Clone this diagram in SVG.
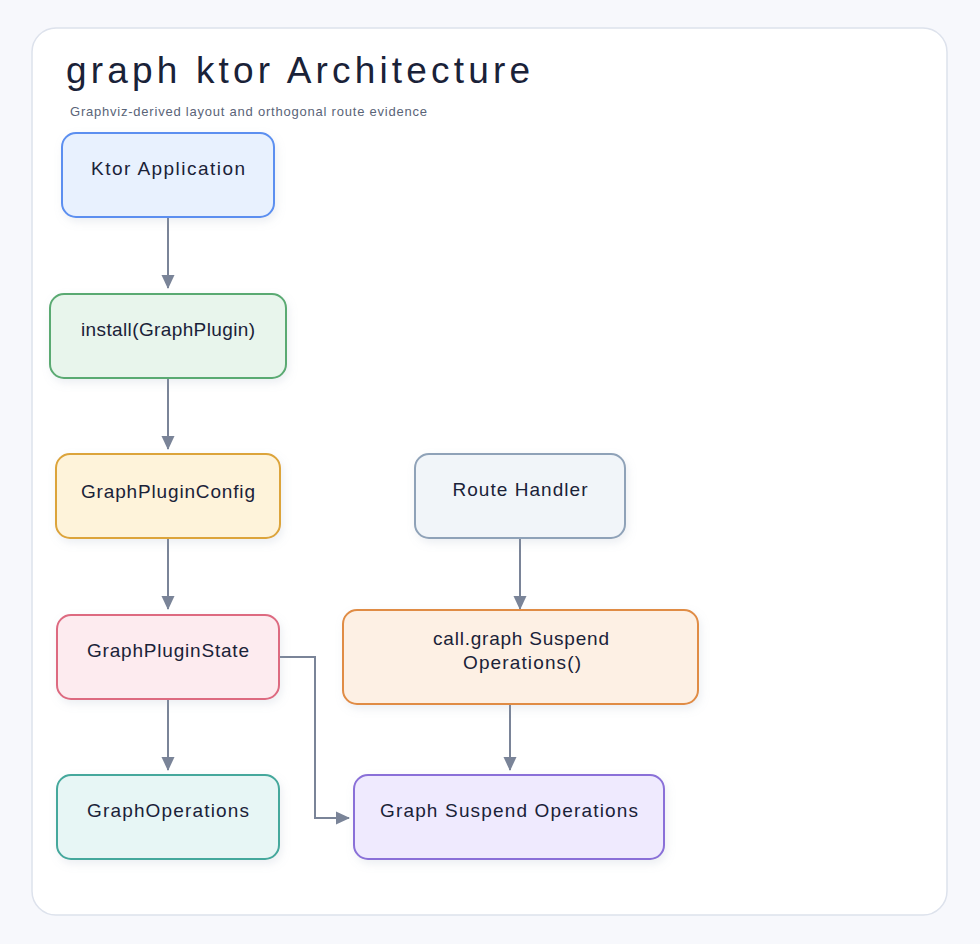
<svg xmlns="http://www.w3.org/2000/svg" width="980" height="944" viewBox="0 0 980 944">
<defs>
<marker id="arr" markerUnits="userSpaceOnUse" markerWidth="14" markerHeight="14" viewBox="0 0 14 14" refX="13" refY="7" orient="auto">
<path d="M0,0.5 L14,7 L0,13.5 z" fill="#7a8498"/>
</marker>
<filter id="sh" x="-10%" y="-10%" width="130%" height="140%">
<feDropShadow dx="2" dy="4" stdDeviation="4" flood-color="#94a3b8" flood-opacity="0.18"/>
</filter>
</defs>
<style>
.nb{stroke-width:2;filter:url(#sh)}
.lbl{font-family:"Liberation Sans","DejaVu Sans",sans-serif;font-size:19px;fill:#1a2238;text-anchor:middle}
.e{fill:none;stroke:#7a8498;stroke-width:2;marker-end:url(#arr)}
</style>
<rect width="980" height="944" fill="#f7f8fc"/>
<rect x="32" y="28" width="915" height="887" rx="24" fill="#ffffff" stroke="#dde2ec" stroke-width="1.5"/>
<text x="66" y="83" font-family="'Liberation Sans','DejaVu Sans',sans-serif" font-size="37" fill="#1a2238" textLength="464" lengthAdjust="spacing">graph ktor Architecture</text>
<text x="70" y="116" font-family="'Liberation Sans','DejaVu Sans',sans-serif" font-size="13" fill="#5a6478" textLength="357" lengthAdjust="spacing">Graphviz-derived layout and orthogonal route evidence</text>
<g id="connectors">
<path class="e" d="M168,217 L168,288"/>
<path class="e" d="M168,378 L168,449"/>
<path class="e" d="M168,538 L168,609"/>
<path class="e" d="M520,538 L520,609"/>
<path class="e" d="M168,699 L168,770"/>
<path class="e" d="M510,704 L510,770"/>
<path class="e" d="M279,657 L315,657 L315,818 L349,818"/>
</g>
<g id="ktor_app">
<rect class="nb" x="62" y="133" width="212" height="84" rx="14" fill="#e8f1fe" stroke="#5b8ff0"/>
<text class="lbl" x="168" y="175" textLength="154" lengthAdjust="spacing">Ktor Application</text>
</g>
<g id="install_plugin">
<rect class="nb" x="50" y="294" width="236" height="84" rx="14" fill="#e8f5ec" stroke="#5aaa72"/>
<text class="lbl" x="168" y="336" textLength="174" lengthAdjust="spacing">install(GraphPlugin)</text>
</g>
<g id="plugin_config">
<rect class="nb" x="56" y="454" width="224" height="84" rx="14" fill="#fef3da" stroke="#dca43a"/>
<text class="lbl" x="168" y="498" textLength="174" lengthAdjust="spacing">GraphPluginConfig</text>
</g>
<g id="route_handler">
<rect class="nb" x="415" y="454" width="210" height="84" rx="14" fill="#f1f5f9" stroke="#8fa2b8"/>
<text class="lbl" x="520" y="496" textLength="135" lengthAdjust="spacing">Route Handler</text>
</g>
<g id="plugin_state">
<rect class="nb" x="57" y="615" width="222" height="84" rx="14" fill="#fdebef" stroke="#dd6a80"/>
<text class="lbl" x="168" y="657" textLength="162" lengthAdjust="spacing">GraphPluginState</text>
</g>
<g id="call_graph">
<rect class="nb" x="343" y="610" width="355" height="94" rx="14" fill="#fdf0e4" stroke="#e08c44"/>
<text class="lbl" x="521" y="645" textLength="176" lengthAdjust="spacing">call.graph Suspend</text>
<text class="lbl" x="522" y="669" textLength="118" lengthAdjust="spacing">Operations()</text>
</g>
<g id="graph_ops">
<rect class="nb" x="57" y="775" width="222" height="84" rx="14" fill="#e7f6f5" stroke="#44a89c"/>
<text class="lbl" x="168" y="817" textLength="162" lengthAdjust="spacing">GraphOperations</text>
</g>
<g id="suspend_ops">
<rect class="nb" x="354" y="775" width="310" height="84" rx="14" fill="#efeafe" stroke="#8a70d8"/>
<text class="lbl" x="509" y="817" textLength="258" lengthAdjust="spacing">Graph Suspend Operations</text>
</g>
</svg>
